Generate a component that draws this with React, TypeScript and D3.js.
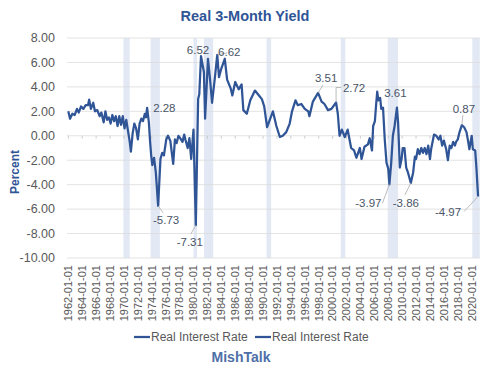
import React from "react";
import * as d3 from "d3";

const months = [
  "1962-01","1962-04","1962-08","1962-12","1963-04","1963-07","1963-11","1964-03","1964-07","1964-11",
  "1965-01","1965-04","1965-08","1965-11","1966-03","1966-07","1966-10","1967-02","1967-05","1967-08",
  "1967-11","1968-02","1968-05","1968-08","1968-11","1969-02","1969-05","1969-08","1969-11","1970-02",
  "1970-05","1970-08","1970-11","1971-01","1971-04","1971-07","1971-10","1972-01","1972-04","1972-07",
  "1972-10","1973-01","1973-03","1973-05","1973-08","1973-10","1973-12","1974-02","1974-05","1974-08",
  "1974-12","1975-04","1975-07","1975-10","1976-02","1976-05","1976-09","1977-02","1977-05","1977-08",
  "1977-11","1978-02","1978-06","1978-09","1978-11","1979-03","1979-06","1979-09","1980-01","1980-05",
  "1980-09","1980-11","1981-02","1981-07","1981-09","1982-02","1982-06","1982-09","1983-02","1983-06",
  "1983-09","1984-01","1984-07","1984-11","1985-05","1985-08","1986-01","1986-07","1986-12","1987-03",
  "1987-09","1988-03","1988-11","1989-06","1989-11","1990-03","1990-08","1991-06","1991-12","1992-06",
  "1992-11","1993-05","1993-11","1994-03","1994-09","1995-01","1995-07","1996-01","1996-07","1996-09",
  "1997-03","1997-12","1998-06","1998-11","1999-05","1999-11","2000-07","2000-10","2001-01","2001-05",
  "2001-10","2002-03","2002-09","2003-02","2003-06","2003-12","2004-03","2004-08","2005-02","2005-05",
  "2005-09","2005-11","2006-02","2006-04","2006-06","2006-08","2006-11","2007-01","2007-04","2007-07",
  "2007-10","2008-01","2008-03","2008-06","2008-09","2008-12","2009-04","2009-06","2009-09","2009-12",
  "2010-02","2010-05","2010-08","2010-11","2011-04","2011-08","2011-11","2012-01","2012-04","2012-07",
  "2012-10","2013-01","2013-04","2013-07","2013-10","2014-01","2014-03","2014-08","2014-12","2015-04",
  "2015-07","2015-10","2016-01","2016-05","2016-08","2016-11","2017-02","2017-05","2017-08","2017-10",
  "2018-01","2018-04","2018-08","2018-12","2019-04","2019-07","2019-09","2020-01","2020-03","2020-07",
  "2020-09","2020-12"
];

const rates = [
  2.0, 1.4, 1.8, 1.7, 2.2, 1.9, 2.4, 2.2, 2.5, 2.5,
  2.95, 2.2, 2.7, 2.0, 2.1, 1.6, 1.9, 1.1, 2.0, 1.3,
  1.5, 1.0, 1.7, 1.2, 1.6, 0.8, 1.6, 0.9, 1.6, 0.6,
  1.3, 0.4, -0.5, -1.3, 0.2, 1.0, 0.6, -0.3, 1.0, 1.4,
  1.2, 1.8, 1.5, 2.28, 1.1, -0.4, -1.6, -2.4, -1.8, -3.0,
  -5.73, -1.9, -1.4, -1.6, -0.3, 0.0, -0.4, -2.3, -0.3, -0.6,
  0.0, -0.2, -0.5, 0.1, -0.3, -1.0, -0.2, -1.9, 0.5, -7.31,
  3.0, 3.4, 6.52, 5.2, 1.4, 6.3, 4.4, 2.7, 4.8, 6.62,
  4.8, 5.5, 6.3, 4.6, 3.9, 3.3, 4.4, 3.8, 4.2, 2.1,
  1.8, 2.9, 3.7, 3.3, 3.0, 2.4, 0.7, 2.0, 0.8, -0.1,
  0.0, 0.3, 1.0, 2.0, 2.9, 2.5, 2.6, 2.2, 2.0, 1.6,
  2.8, 3.51, 2.8, 2.6, 2.1, 2.2, 2.72, 1.8, 0.0, 0.5,
  -0.1, 0.5, -1.0, -1.2, -1.8, -1.0, -1.9, -0.9, -0.7, -0.2,
  -1.2, 0.8, 1.2, 2.5, 3.61, 2.9, 3.1, 2.2, 2.3, -0.3,
  -2.2, -2.7, -3.97, -2.3, 0.0, 0.8, 2.3, 1.1, -2.6, -1.9,
  -1.0, -1.0, -2.6, -3.0, -3.86, -3.0, -1.7, -1.9, -1.1, -1.5,
  -1.0, -1.4, -1.0, -1.5, -0.8, -1.9, -1.1, 0.1, 0.0, -0.3,
  0.0, -0.8, -0.4, -1.1, -2.0, -0.8, -1.0, -0.5, -0.8, -0.5,
  -0.3, 0.3, 0.87, 0.7, 0.3, -0.5, -1.1, 0.0, -1.1, -1.2,
  -2.5, -4.97
];

const recessionStarts = ["1969-12", "1973-11", "1980-01", "1981-07", "1990-07", "2001-03", "2007-12", "2020-02"];
const recessionEnds = ["1970-11", "1975-03", "1980-07", "1982-11", "1991-03", "2001-11", "2009-06", "2021-03"];

const yTicks = [8, 6, 4, 2, 0, -2, -4, -6, -8, -10];
const tickYears = d3.range(1962, 2021, 2);

const labelMonths = ["1973-05", "1974-12", "1980-05", "1981-02", "1983-06", "1997-12", "2000-07", "2006-06", "2008-03", "2011-04", "2018-08", "2020-12"];
// placement of each data label relative to its point: [dx, dy, leader end dx, leader end dy, leader kind]
const labelPlacement: [number, number, number, number, string][] = [
  [6, 0, 0, 0, "none-start"],
  [8, 14, 5, 7, "line"],
  [-6, 17, -5, 9, "line"],
  [-3, -6, 0, 0, "none"],
  [12, -3, 10, -2, "line"],
  [8, -15, 5, -8, "line"],
  [18, -15, 5, -15, "elbow"],
  [7, 1, 0, 0, "none-start"],
  [-21, 19, -7, 19, "line"],
  [-5, 20, -6, 12, "line"],
  [2, -16, 1, -10, "line"],
  [-30, 15, -14, 15, "line"],
];

const monthIndex = (s: string) => {
  const [y, m] = s.split("-").map(Number);
  return (y - 1962) * 12 + (m - 1);
};

const fmt2 = (v: number) => d3.format(".2f")(v).replace("\u2212", "-");

const LINE = "#2f5597";
const FONT = "'Liberation Sans', Arial, sans-serif";

export default function App() {
  const W = 500, H = 378;
  const x = d3.scaleLinear().domain([0, monthIndex("2020-01")]).range([68.3, 471.7]);
  const y = d3.scaleLinear().domain([-10, 8]).range([258, 38]);
  const plotLeft = 67, plotRight = 480;

  const pts = months.map((m, i) => [x(monthIndex(m)), y(rates[i])] as [number, number]);
  const path = d3.line()(pts) || "";

  return (
    <svg width={W} height={H} style={{ display: "block", position: "absolute", left: 0, top: 0, background: "#fff" }} fontFamily={FONT}>
      <rect x={0} y={0} width={W} height={H} fill="#fff" />
      {recessionStarts.map((s, i) => {
        const x0 = x(monthIndex(s));
        const x1 = Math.min(plotRight, x(monthIndex(recessionEnds[i])));
        return <rect key={s} x={x0} y={38} width={x1 - x0} height={220} fill="#e3e9f4" />;
      })}
      {yTicks.map((t) => (
        <g key={t}>
          <line x1={plotLeft} x2={plotRight} y1={y(t)} y2={y(t)} stroke="#d9d9d9" strokeWidth={0.75} />
          <text x={55} y={y(t)} dy="0.35em" textAnchor="end" fontSize={12.5} fill="#595959">{fmt2(t)}</text>
        </g>
      ))}
      {tickYears.map((yr) => {
        const px = x(monthIndex(`${yr}-01`));
        return (
          <g key={yr}>
            <line x1={px} x2={px} y1={y(0)} y2={y(0) + 3} stroke="#bfbfbf" strokeWidth={0.75} />
            <text transform={`translate(${px},265) rotate(-90)`} dy="0.35em" textAnchor="end" fontSize={11} fill="#595959">{`${yr}-01-01`}</text>
          </g>
        );
      })}
      <path d={path} fill="none" stroke={LINE} strokeWidth={2.25} strokeLinejoin="round" />
      {labelMonths.map((m, i) => {
        const idx = months.indexOf(m);
        const px = x(monthIndex(m));
        const py = y(rates[idx]);
        const [dx, dy, lx, ly, kind] = labelPlacement[i];
        const text = fmt2(rates[idx]);
        let leader: React.ReactNode = null;
        if (kind === "line") {
          leader = <line x1={px} y1={py} x2={px + lx} y2={py + ly} stroke="#a6a6a6" strokeWidth={0.75} />;
        } else if (kind === "elbow") {
          leader = <polyline points={`${px},${py} ${px},${py + ly} ${px + lx},${py + ly}`} fill="none" stroke="#a6a6a6" strokeWidth={0.75} />;
        }
        return (
          <g key={m}>
            {leader}
            <text x={px + dx} y={py + dy} dy="0.35em" textAnchor={kind === "none-start" ? "start" : "middle"} fontSize={11.5} fill="#4a5568">{text}</text>
          </g>
        );
      })}
      <text x={245} y={21} textAnchor="middle" fontSize={14.5} fontWeight="bold" fill={LINE}>Real 3-Month Yield</text>
      <text transform={`translate(15,172) rotate(-90)`} dy="0.35em" textAnchor="middle" fontSize={12} fontWeight="bold" fill={LINE}>Percent</text>
      <line x1={134} x2={150} y1={337} y2={337} stroke={LINE} strokeWidth={2.25} />
      <text x={151} y={337} dy="0.35em" fontSize={12} fill="#595959">Real Interest Rate</text>
      <line x1={255} x2={271} y1={337} y2={337} stroke={LINE} strokeWidth={2.25} />
      <text x={272} y={337} dy="0.35em" fontSize={12} fill="#595959">Real Interest Rate</text>
      <text x={241} y={357} dy="0.35em" textAnchor="middle" fontSize={14} fontWeight="bold" fill="#4f6fa8">MishTalk</text>
    </svg>
  );
}
